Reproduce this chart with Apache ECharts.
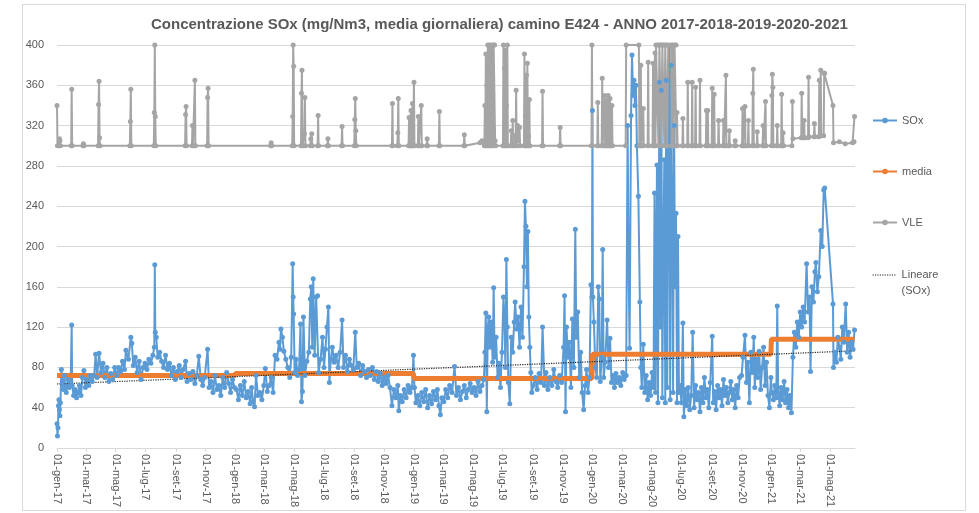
<!DOCTYPE html>
<html>
<head>
<meta charset="utf-8">
<script src="https://cdn.jsdelivr.net/npm/echarts@6/dist/echarts.min.js"></script>
<style>
  html, body { margin: 0; padding: 0; background: #fff; }
  #chart { width: 979px; height: 513px; }
</style>
</head>
<body>
<div id="chart"></div>
<script>
// tick labels
const monthNames = ['gen', 'feb', 'mar', 'apr', 'mag', 'giu', 'lug', 'ago', 'set', 'ott', 'nov', 'dic'];
const xTickDates = [
  '2017-01-01', '2017-03-01', '2017-05-01', '2017-07-01', '2017-09-01', '2017-11-01',
  '2018-01-01', '2018-03-01', '2018-05-01', '2018-07-01', '2018-09-01', '2018-11-01',
  '2019-01-01', '2019-03-01', '2019-05-01', '2019-07-01', '2019-09-01', '2019-11-01',
  '2020-01-01', '2020-03-01', '2020-05-01', '2020-07-01', '2020-09-01', '2020-11-01',
  '2021-01-01', '2021-03-01', '2021-05-01'
];
const yTicks = [0, 40, 80, 120, 160, 200, 240, 280, 320, 360, 400];
const xStart = '2017-01-01';
const xEnd = '2021-06-21';

// SOx daily values
const soxData = [
  ['2017-01-01', 24], ['2017-01-02', 12], ['2017-01-03', 20], ['2017-01-04', 42], ['2017-01-05', 48], ['2017-01-06', 38],
  ['2017-01-07', 32], ['2017-01-08', 45], ['2017-01-10', 78], ['2017-01-12', 65], ['2017-01-14', 58], ['2017-01-16', 72],
  ['2017-01-18', 60], ['2017-01-20', 55], ['2017-01-23', 68], ['2017-01-26', 60], ['2017-01-29', 66], ['2017-01-31', 122],
  ['2017-02-01', 62], ['2017-02-04', 52], ['2017-02-07', 58], ['2017-02-10', 50], ['2017-02-13', 55], ['2017-02-16', 62],
  ['2017-02-19', 52], ['2017-02-22', 70], ['2017-02-25', 77], ['2017-02-28', 60], ['2017-03-03', 68], ['2017-03-07', 62],
  ['2017-03-10', 72], ['2017-03-14', 66], ['2017-03-18', 72], ['2017-03-21', 93], ['2017-03-24', 70], ['2017-03-28', 94],
  ['2017-04-01', 75], ['2017-04-05', 84], ['2017-04-09', 70], ['2017-04-13', 80], ['2017-04-17', 66], ['2017-04-21', 74],
  ['2017-04-25', 68], ['2017-04-29', 80], ['2017-05-03', 72], ['2017-05-07', 80], ['2017-05-11', 76], ['2017-05-15', 86],
  ['2017-05-19', 78], ['2017-05-22', 97], ['2017-05-27', 88], ['2017-06-01', 110], ['2017-06-03', 104], ['2017-06-06', 82],
  ['2017-06-10', 90], ['2017-06-14', 75], ['2017-06-18', 86], ['2017-06-22', 68], ['2017-06-26', 80], ['2017-06-30', 84],
  ['2017-07-04', 78], ['2017-07-08', 88], ['2017-07-12', 84], ['2017-07-16', 92], ['2017-07-19', 100], ['2017-07-20', 182],
  ['2017-07-21', 115], ['2017-07-23', 110], ['2017-07-26', 90], ['2017-07-30', 95], ['2017-08-03', 86], ['2017-08-07', 80],
  ['2017-08-11', 92], ['2017-08-15', 78], ['2017-08-19', 84], ['2017-08-23', 72], ['2017-08-27', 80], ['2017-08-31', 68],
  ['2017-09-04', 76], ['2017-09-08', 82], ['2017-09-12', 70], ['2017-09-16', 78], ['2017-09-21', 86], ['2017-09-24', 66],
  ['2017-09-28', 74], ['2017-10-02', 68], ['2017-10-06', 76], ['2017-10-10', 64], ['2017-10-14', 72], ['2017-10-18', 91],
  ['2017-10-22', 68], ['2017-10-26', 62], ['2017-10-30', 70], ['2017-11-05', 98], ['2017-11-08', 60], ['2017-11-12', 66],
  ['2017-11-16', 55], ['2017-11-20', 72], ['2017-11-24', 58], ['2017-11-28', 62], ['2017-12-02', 52], ['2017-12-06', 70],
  ['2017-12-10', 60], ['2017-12-14', 75], ['2017-12-18', 64], ['2017-12-22', 55], ['2017-12-26', 68], ['2017-12-30', 60],
  ['2018-01-03', 58], ['2018-01-07', 48], ['2018-01-11', 62], ['2018-01-15', 52], ['2018-01-19', 66], ['2018-01-23', 50],
  ['2018-01-27', 56], ['2018-01-31', 44], ['2018-02-03', 60], ['2018-02-06', 46], ['2018-02-09', 41], ['2018-02-12', 72],
  ['2018-02-16', 52], ['2018-02-20', 55], ['2018-02-24', 48], ['2018-02-28', 62], ['2018-03-03', 79], ['2018-03-07', 56],
  ['2018-03-11', 62], ['2018-03-15', 70], ['2018-03-19', 55], ['2018-03-23', 92], ['2018-03-27', 88], ['2018-03-31', 105],
  ['2018-04-02', 98], ['2018-04-04', 118], ['2018-04-07', 110], ['2018-04-10', 96], ['2018-04-14', 88], ['2018-04-18', 80],
  ['2018-04-22', 70], ['2018-04-25', 90], ['2018-04-28', 183], ['2018-04-29', 150], ['2018-04-30', 133], ['2018-05-02', 75],
  ['2018-05-05', 88], ['2018-05-08', 72], ['2018-05-11', 78], ['2018-05-14', 123], ['2018-05-16', 46], ['2018-05-18', 56],
  ['2018-05-20', 130], ['2018-05-23', 72], ['2018-05-27', 86], ['2018-05-31', 95], ['2018-06-03', 148], ['2018-06-05', 160],
  ['2018-06-07', 100], ['2018-06-09', 168], ['2018-06-12', 92], ['2018-06-15', 150], ['2018-06-18', 151], ['2018-06-20', 75],
  ['2018-06-24', 88], ['2018-06-28', 110], ['2018-07-01', 80], ['2018-07-04', 98], ['2018-07-07', 120], ['2018-07-10', 140],
  ['2018-07-12', 65], ['2018-07-15', 88], ['2018-07-18', 100], ['2018-07-22', 85], ['2018-07-26', 92], ['2018-07-30', 80],
  ['2018-08-03', 95], ['2018-08-07', 127], ['2018-08-10', 80], ['2018-08-14', 92], ['2018-08-18', 76], ['2018-08-22', 88],
  ['2018-08-26', 82], ['2018-08-30', 78], ['2018-09-03', 115], ['2018-09-06', 80], ['2018-09-10', 84], ['2018-09-14', 72],
  ['2018-09-18', 82], ['2018-09-22', 76], ['2018-09-26', 70], ['2018-09-30', 78], ['2018-10-04', 72], ['2018-10-08', 80],
  ['2018-10-12', 68], ['2018-10-16', 76], ['2018-10-20', 66], ['2018-10-24', 74], ['2018-10-28', 62], ['2018-11-01', 70],
  ['2018-11-05', 64], ['2018-11-09', 72], ['2018-11-13', 60], ['2018-11-17', 42], ['2018-11-21', 58], ['2018-11-25', 50],
  ['2018-11-29', 62], ['2018-12-01', 37], ['2018-12-04', 52], ['2018-12-08', 46], ['2018-12-12', 58], ['2018-12-16', 50],
  ['2018-12-20', 62], ['2018-12-24', 55], ['2018-12-28', 60], ['2018-12-31', 92],
  ['2019-01-02', 60], ['2019-01-05', 45], ['2019-01-09', 52], ['2019-01-13', 42], ['2019-01-17', 55], ['2019-01-21', 46],
  ['2019-01-25', 58], ['2019-01-29', 40], ['2019-02-02', 52], ['2019-02-06', 44], ['2019-02-10', 56], ['2019-02-14', 48],
  ['2019-02-18', 58], ['2019-02-21', 42], ['2019-02-24', 33], ['2019-02-27', 50], ['2019-03-03', 46], ['2019-03-07', 58],
  ['2019-03-11', 50], ['2019-03-15', 62], ['2019-03-20', 55], ['2019-03-25', 81], ['2019-03-29', 52], ['2019-04-02', 60],
  ['2019-04-06', 48], ['2019-04-10', 56], ['2019-04-14', 62], ['2019-04-18', 50], ['2019-04-22', 58], ['2019-04-26', 64],
  ['2019-04-30', 55], ['2019-05-04', 60], ['2019-05-08', 52], ['2019-05-12', 66], ['2019-05-16', 56], ['2019-05-20', 62],
  ['2019-05-24', 68], ['2019-05-26', 95], ['2019-05-28', 134], ['2019-05-30', 36], ['2019-06-01', 120], ['2019-06-03', 130],
  ['2019-06-05', 100], ['2019-06-08', 125], ['2019-06-11', 85], ['2019-06-13', 159], ['2019-06-15', 90], ['2019-06-18', 110],
  ['2019-06-21', 70], ['2019-06-24', 84], ['2019-06-27', 60], ['2019-06-30', 95], ['2019-07-03', 150], ['2019-07-05', 130],
  ['2019-07-07', 80], ['2019-07-09', 187], ['2019-07-11', 120], ['2019-07-13', 65], ['2019-07-16', 44], ['2019-07-19', 110],
  ['2019-07-22', 95], ['2019-07-25', 125], ['2019-07-27', 145], ['2019-07-30', 118], ['2019-08-02', 130], ['2019-08-05', 100],
  ['2019-08-08', 140], ['2019-08-11', 110], ['2019-08-14', 180], ['2019-08-16', 245], ['2019-08-18', 220], ['2019-08-20', 160],
  ['2019-08-22', 215], ['2019-08-24', 130], ['2019-08-26', 100], ['2019-08-28', 75], ['2019-08-30', 55], ['2019-09-02', 62],
  ['2019-09-06', 70], ['2019-09-10', 58], ['2019-09-14', 74], ['2019-09-18', 65], ['2019-09-21', 120], ['2019-09-25', 62],
  ['2019-09-28', 75], ['2019-10-02', 58], ['2019-10-06', 70], ['2019-10-10', 62], ['2019-10-14', 78], ['2019-10-18', 66],
  ['2019-10-22', 60], ['2019-10-26', 72], ['2019-10-30', 65], ['2019-11-03', 100], ['2019-11-05', 151], ['2019-11-07', 36],
  ['2019-11-09', 120], ['2019-11-12', 90], ['2019-11-15', 105], ['2019-11-18', 60], ['2019-11-21', 128], ['2019-11-24', 80],
  ['2019-11-27', 217], ['2019-11-29', 110], ['2019-12-02', 135], ['2019-12-05', 70], ['2019-12-08', 95], ['2019-12-11', 55],
  ['2019-12-14', 38], ['2019-12-17', 62], ['2019-12-20', 78], ['2019-12-23', 55], ['2019-12-26', 70], ['2019-12-29', 162],
  ['2019-12-31', 150],
  ['2020-01-01', 335], ['2020-01-02', 150], ['2020-01-04', 125], ['2020-01-07', 80], ['2020-01-10', 70], ['2020-01-13', 160],
  ['2020-01-15', 148], ['2020-01-17', 66], ['2020-01-20', 90], ['2020-01-22', 197], ['2020-01-24', 70], ['2020-01-27', 85],
  ['2020-01-31', 127], ['2020-02-03', 80], ['2020-02-06', 109], ['2020-02-09', 65], ['2020-02-12', 72], ['2020-02-15', 60],
  ['2020-02-18', 74], ['2020-02-21', 65], ['2020-02-25', 70], ['2020-02-28', 62], ['2020-03-03', 75], ['2020-03-06', 68],
  ['2020-03-10', 72], ['2020-03-13', 320], ['2020-03-15', 180], ['2020-03-17', 99], ['2020-03-20', 330], ['2020-03-22', 390],
  ['2020-03-24', 350], ['2020-03-26', 365], ['2020-03-28', 340], ['2020-03-30', 360], ['2020-04-01', 300], ['2020-04-04', 250],
  ['2020-04-07', 145], ['2020-04-09', 80], ['2020-04-11', 60], ['2020-04-14', 103], ['2020-04-17', 55], ['2020-04-20', 72],
  ['2020-04-23', 48], ['2020-04-26', 65], ['2020-04-29', 52], ['2020-05-02', 75], ['2020-05-05', 60], ['2020-05-07', 253],
  ['2020-05-09', 55], ['2020-05-12', 281], ['2020-05-14', 45], ['2020-05-17', 363], ['2020-05-19', 120], ['2020-05-21', 355],
  ['2020-05-23', 50], ['2020-05-25', 193], ['2020-05-27', 286], ['2020-05-29', 45], ['2020-05-31', 365], ['2020-06-02', 60],
  ['2020-06-04', 274], ['2020-06-06', 420], ['2020-06-08', 48], ['2020-06-10', 380], ['2020-06-12', 230], ['2020-06-14', 55],
  ['2020-06-16', 320], ['2020-06-18', 160], ['2020-06-20', 233], ['2020-06-22', 45], ['2020-06-24', 210], ['2020-06-26', 55],
  ['2020-06-28', 62], ['2020-07-01', 45], ['2020-07-04', 124], ['2020-07-06', 31], ['2020-07-09', 58], ['2020-07-12', 42],
  ['2020-07-15', 60], ['2020-07-18', 38], ['2020-07-21', 52], ['2020-07-24', 115], ['2020-07-27', 40], ['2020-07-30', 62],
  ['2020-08-02', 48], ['2020-08-05', 55], ['2020-08-08', 36], ['2020-08-11', 60], ['2020-08-14', 45], ['2020-08-17', 70],
  ['2020-08-20', 50], ['2020-08-23', 58], ['2020-08-26', 40], ['2020-08-29', 65], ['2020-09-02', 111], ['2020-09-04', 45],
  ['2020-09-07', 56], ['2020-09-10', 38], ['2020-09-13', 62], ['2020-09-16', 50], ['2020-09-19', 58], ['2020-09-22', 42],
  ['2020-09-25', 68], ['2020-09-28', 52], ['2020-10-01', 60], ['2020-10-04', 45], ['2020-10-07', 55], ['2020-10-10', 66],
  ['2020-10-13', 48], ['2020-10-16', 58], ['2020-10-19', 40], ['2020-10-22', 62], ['2020-10-25', 50], ['2020-10-28', 70],
  ['2020-11-01', 72], ['2020-11-04', 90], ['2020-11-08', 112], ['2020-11-11', 65], ['2020-11-14', 85], ['2020-11-17', 45],
  ['2020-11-20', 95], ['2020-11-23', 75], ['2020-11-26', 110], ['2020-11-28', 60], ['2020-12-01', 88], ['2020-12-04', 70],
  ['2020-12-07', 96], ['2020-12-10', 58], ['2020-12-13', 80], ['2020-12-16', 100], ['2020-12-19', 62], ['2020-12-22', 85],
  ['2020-12-25', 52], ['2020-12-28', 40], ['2020-12-31', 70],
  ['2021-01-02', 55], ['2021-01-05', 48], ['2021-01-08', 62], ['2021-01-11', 50], ['2021-01-13', 141], ['2021-01-15', 55],
  ['2021-01-18', 42], ['2021-01-21', 60], ['2021-01-24', 48], ['2021-01-27', 66], ['2021-01-30', 45], ['2021-02-02', 58],
  ['2021-02-05', 40], ['2021-02-08', 52], ['2021-02-11', 35], ['2021-02-14', 90], ['2021-02-17', 115], ['2021-02-20', 100],
  ['2021-02-23', 125], ['2021-02-26', 110], ['2021-03-01', 135], ['2021-03-04', 120], ['2021-03-07', 140], ['2021-03-10', 125],
  ['2021-03-14', 183], ['2021-03-17', 135], ['2021-03-20', 150], ['2021-03-22', 76], ['2021-03-25', 160], ['2021-03-28', 145],
  ['2021-03-31', 175], ['2021-04-02', 184], ['2021-04-05', 155], ['2021-04-08', 170], ['2021-04-12', 216], ['2021-04-15', 200],
  ['2021-04-18', 256], ['2021-04-20', 258], ['2021-05-07', 143], ['2021-05-08', 80], ['2021-05-11', 95], ['2021-05-14', 85],
  ['2021-05-17', 110], ['2021-05-20', 100], ['2021-05-23', 88], ['2021-05-26', 120], ['2021-05-29', 105], ['2021-06-02', 143],
  ['2021-06-05', 95], ['2021-06-08', 115], ['2021-06-11', 90], ['2021-06-14', 105], ['2021-06-17', 98], ['2021-06-20', 117]
];

// yearly mean
const mediaData = [
  ['2017-01-01', 72], ['2017-12-31', 72], ['2018-01-01', 74], ['2018-12-31', 74],
  ['2019-01-01', 69], ['2019-12-31', 69], ['2020-01-01', 93], ['2020-12-31', 93],
  ['2021-01-01', 108], ['2021-06-20', 108]
];

// VLE: flat 300 with spikes
const vleData = [
  ['2017-01-01', 340], ['2017-01-02', 300], ['2017-01-05', 300], ['2017-01-06', 307], ['2017-01-07', 305], ['2017-01-08', 300],
  ['2017-01-30', 300], ['2017-01-31', 356], ['2017-02-01', 300], ['2017-02-23', 300], ['2017-02-24', 302], ['2017-02-25', 300],
  ['2017-03-26', 300], ['2017-03-27', 341], ['2017-03-28', 364], ['2017-03-29', 308], ['2017-03-30', 300],
  ['2017-05-30', 300], ['2017-05-31', 324], ['2017-06-01', 356], ['2017-06-02', 300],
  ['2017-07-18', 300], ['2017-07-19', 333], ['2017-07-20', 400], ['2017-07-21', 329], ['2017-07-22', 300],
  ['2017-09-20', 300], ['2017-09-21', 331], ['2017-09-22', 339], ['2017-09-23', 300],
  ['2017-10-04', 300], ['2017-10-05', 320], ['2017-10-06', 300], ['2017-10-09', 300], ['2017-10-10', 365], ['2017-10-11', 300],
  ['2017-11-04', 300], ['2017-11-05', 348], ['2017-11-06', 357], ['2017-11-07', 300],
  ['2018-03-14', 300], ['2018-03-15', 303], ['2018-03-16', 300],
  ['2018-04-27', 300], ['2018-04-28', 329], ['2018-04-29', 400], ['2018-04-30', 379], ['2018-05-01', 300],
  ['2018-05-15', 300], ['2018-05-16', 352], ['2018-05-17', 375], ['2018-05-18', 300],
  ['2018-05-21', 300], ['2018-05-22', 312], ['2018-05-23', 348], ['2018-05-24', 300],
  ['2018-06-03', 300], ['2018-06-04', 307], ['2018-06-06', 312], ['2018-06-07', 300],
  ['2018-06-18', 300], ['2018-06-19', 330], ['2018-06-20', 300], ['2018-07-08', 300], ['2018-07-09', 307], ['2018-07-10', 300],
  ['2018-08-06', 300], ['2018-08-07', 319], ['2018-08-08', 300],
  ['2018-09-01', 300], ['2018-09-02', 326], ['2018-09-03', 347], ['2018-09-04', 315], ['2018-09-05', 300],
  ['2018-11-17', 300], ['2018-11-18', 342], ['2018-11-19', 300],
  ['2018-11-28', 300], ['2018-11-29', 313], ['2018-11-30', 347], ['2018-12-01', 300],
  ['2018-12-21', 300], ['2018-12-22', 328], ['2018-12-23', 300], ['2018-12-25', 300], ['2018-12-26', 335], ['2018-12-27', 300],
  ['2018-12-28', 300], ['2018-12-29', 342], ['2018-12-30', 300], ['2018-12-31', 300], ['2019-01-01', 363], ['2019-01-02', 300],
  ['2019-01-09', 300], ['2019-01-10', 329], ['2019-01-11', 300], ['2019-01-15', 300], ['2019-01-16', 340], ['2019-01-17', 300],
  ['2019-01-27', 300], ['2019-01-28', 307], ['2019-01-29', 300], ['2019-02-21', 300], ['2019-02-22', 334], ['2019-02-23', 300],
  ['2019-04-13', 300], ['2019-04-14', 311], ['2019-04-15', 300], ['2019-05-16', 303], ['2019-05-20', 305],
  ['2019-05-25', 300], ['2019-05-26', 340], ['2019-05-27', 300], ['2019-05-28', 391], ['2019-05-29', 300], ['2019-05-30', 360],
  ['2019-05-31', 300], ['2019-06-01', 400], ['2019-06-02', 300], ['2019-06-03', 330], ['2019-06-04', 300], ['2019-06-05', 400],
  ['2019-06-06', 300], ['2019-06-07', 320], ['2019-06-08', 300], ['2019-06-09', 400], ['2019-06-10', 300], ['2019-06-11', 350],
  ['2019-06-12', 300], ['2019-06-13', 400], ['2019-06-15', 400], ['2019-06-16', 305], ['2019-06-17', 300],
  ['2019-07-02', 300], ['2019-07-03', 400], ['2019-07-04', 300], ['2019-07-05', 377], ['2019-07-06', 300], ['2019-07-07', 395],
  ['2019-07-08', 300], ['2019-07-09', 340], ['2019-07-10', 300], ['2019-07-11', 400], ['2019-07-12', 300],
  ['2019-07-18', 300], ['2019-07-19', 315], ['2019-07-21', 300], ['2019-07-22', 325], ['2019-07-23', 300], ['2019-07-25', 310],
  ['2019-07-28', 300], ['2019-07-29', 355], ['2019-07-30', 300], ['2019-08-01', 320], ['2019-08-03', 305], ['2019-08-05', 318],
  ['2019-08-06', 300], ['2019-08-14', 300], ['2019-08-15', 391], ['2019-08-16', 300], ['2019-08-17', 330], ['2019-08-18', 300],
  ['2019-08-19', 370], ['2019-08-20', 300], ['2019-08-21', 382], ['2019-08-22', 300], ['2019-08-23', 310], ['2019-08-24', 300],
  ['2019-08-25', 346], ['2019-08-26', 300], ['2019-09-20', 300], ['2019-09-21', 354], ['2019-09-22', 300],
  ['2019-10-26', 300], ['2019-10-27', 318], ['2019-10-28', 300], ['2019-12-30', 300], ['2019-12-31', 400],
  ['2020-01-01', 300], ['2020-01-11', 300], ['2020-01-12', 343], ['2020-01-13', 300], ['2020-01-20', 300], ['2020-01-21', 367],
  ['2020-01-22', 300], ['2020-01-25', 300], ['2020-01-26', 350], ['2020-01-27', 300], ['2020-01-28', 300], ['2020-01-29', 345],
  ['2020-01-30', 300], ['2020-02-01', 300], ['2020-02-02', 350], ['2020-02-03', 300], ['2020-02-05', 300], ['2020-02-06', 347],
  ['2020-02-07', 300], ['2020-02-09', 300], ['2020-02-10', 340], ['2020-02-11', 300],
  ['2020-03-09', 300], ['2020-03-10', 400], ['2020-04-05', 400], ['2020-04-06', 300],
  ['2020-04-08', 300], ['2020-04-09', 380], ['2020-04-10', 300], ['2020-04-13', 300], ['2020-04-14', 337], ['2020-04-15', 300],
  ['2020-04-23', 300], ['2020-04-24', 383], ['2020-04-25', 300], ['2020-05-03', 300], ['2020-05-04', 382], ['2020-05-05', 300],
  ['2020-05-07', 300], ['2020-05-08', 392], ['2020-05-09', 300], ['2020-05-10', 400], ['2020-05-14', 400], ['2020-05-15', 300],
  ['2020-05-17', 400], ['2020-05-20', 400], ['2020-05-21', 300], ['2020-05-23', 400], ['2020-05-26', 400], ['2020-05-27', 300],
  ['2020-05-29', 400], ['2020-06-01', 400], ['2020-06-02', 300], ['2020-06-04', 400], ['2020-06-10', 400], ['2020-06-11', 300],
  ['2020-06-13', 400], ['2020-06-15', 300], ['2020-06-17', 400], ['2020-06-20', 400], ['2020-06-21', 300], ['2020-06-22', 333],
  ['2020-06-23', 300], ['2020-07-03', 300], ['2020-07-04', 327], ['2020-07-05', 300], ['2020-07-13', 300], ['2020-07-14', 363],
  ['2020-07-15', 300], ['2020-07-22', 300], ['2020-07-23', 363], ['2020-07-24', 300], ['2020-07-29', 300], ['2020-07-30', 358],
  ['2020-07-31', 300], ['2020-08-07', 300], ['2020-08-08', 365], ['2020-08-09', 300], ['2020-08-20', 300], ['2020-08-21', 335],
  ['2020-08-22', 300], ['2020-08-23', 300], ['2020-08-24', 335], ['2020-08-25', 300], ['2020-09-01', 300], ['2020-09-02', 357],
  ['2020-09-03', 300], ['2020-09-05', 300], ['2020-09-06', 351], ['2020-09-07', 300], ['2020-09-14', 300], ['2020-09-15', 325],
  ['2020-09-16', 300], ['2020-09-24', 300], ['2020-09-25', 325], ['2020-09-26', 300], ['2020-09-29', 300], ['2020-09-30', 370],
  ['2020-10-01', 300], ['2020-10-06', 300], ['2020-10-07', 315], ['2020-10-08', 300], ['2020-10-18', 300], ['2020-10-19', 305],
  ['2020-10-20', 300], ['2020-11-02', 300], ['2020-11-03', 337], ['2020-11-04', 300], ['2020-11-07', 300], ['2020-11-08', 339],
  ['2020-11-09', 300], ['2020-11-14', 300], ['2020-11-15', 325], ['2020-11-16', 300], ['2020-11-23', 300], ['2020-11-24', 352],
  ['2020-11-25', 376], ['2020-11-26', 300], ['2020-12-02', 300], ['2020-12-03', 314], ['2020-12-04', 300], ['2020-12-14', 300],
  ['2020-12-15', 320], ['2020-12-16', 300], ['2020-12-19', 300], ['2020-12-20', 344], ['2020-12-21', 300],
  ['2021-01-01', 300], ['2021-01-02', 350], ['2021-01-03', 371], ['2021-01-04', 358], ['2021-01-05', 300], ['2021-01-12', 300],
  ['2021-01-13', 320], ['2021-01-14', 300], ['2021-01-21', 300], ['2021-01-22', 351], ['2021-01-23', 300], ['2021-01-24', 300],
  ['2021-01-25', 313], ['2021-01-26', 300], ['2021-02-12', 300], ['2021-02-13', 344], ['2021-02-14', 307], ['2021-03-03', 308],
  ['2021-03-04', 352], ['2021-03-05', 308], ['2021-03-08', 308], ['2021-03-09', 325], ['2021-03-10', 308], ['2021-03-17', 308],
  ['2021-03-18', 368], ['2021-03-19', 309], ['2021-03-29', 309], ['2021-03-30', 322], ['2021-03-31', 309], ['2021-04-08', 309],
  ['2021-04-09', 365], ['2021-04-10', 310], ['2021-04-11', 310], ['2021-04-12', 375], ['2021-04-13', 310], ['2021-04-18', 310],
  ['2021-04-19', 372], ['2021-04-20', 372], ['2021-05-07', 340], ['2021-05-08', 303], ['2021-05-20', 304], ['2021-06-01', 302],
  ['2021-06-16', 303], ['2021-06-19', 304], ['2021-06-20', 329]
];

// linear trend of SOx, end points
const trendData = [['2017-01-01', 63.5], ['2021-06-20', 96.5]];

// dates -> local timestamps for the value axis
function toTime(s) {
  const p = s.split('-');
  return new Date(+p[0], +p[1] - 1, +p[2]).getTime();
}
function toPoints(rows) {
  return rows.map(function (r) { return [toTime(r[0]), r[1]]; });
}

const tickTimes = xTickDates.map(toTime);
const font = 'Liberation Sans';
const grey = '#595959';

const chart = echarts.init(document.getElementById('chart'));

const legendBase = {
  orient: 'vertical',
  left: 872,
  padding: 0,
  itemWidth: 24,
  itemHeight: 7,
  textStyle: { color: grey, fontSize: 11, fontFamily: font },
  lineStyle: { width: 2 }
};

const option = {
  animation: false,
  backgroundColor: '#fff',
  textStyle: { fontFamily: font },
  title: {
    text: 'Concentrazione SOx (mg/Nm3, media giornaliera) camino E424 - ANNO 2017-2018-2019-2020-2021',
    left: 146,
    top: 12,
    textStyle: { fontSize: 15, fontWeight: 'bold', color: grey, fontFamily: font }
  },
  graphic: [
    {
      type: 'rect',
      shape: { x: 22.5, y: 4.5, width: 943, height: 506 },
      style: { fill: 'none', stroke: '#d9d9d9', lineWidth: 1 },
      silent: true
    }
  ],
  legend: [
    Object.assign({}, legendBase, { data: ['SOx'], top: 115 }),
    Object.assign({}, legendBase, { data: ['media'], top: 166 }),
    Object.assign({}, legendBase, { data: ['VLE'], top: 217 }),
    Object.assign({}, legendBase, {
      data: [{
        name: 'Lineare (SOx)',
        lineStyle: { width: 1.2 },
        itemStyle: { color: 'rgba(0,0,0,0)', borderWidth: 0 }
      }],
      top: 251,
      // empty first line so the icon sits next to "Lineare"
      formatter: function () { return ' \nLineare\n(SOx)'; },
      textStyle: { color: grey, fontSize: 11, fontFamily: font, lineHeight: 16 }
    })
  ],
  grid: {
    left: 57,
    right: 124,
    top: 45,
    bottom: 65
  },
  xAxis: {
    type: 'value',
    min: toTime(xStart),
    max: toTime(xEnd),
    axisLine: { show: true, onZero: false, lineStyle: { color: '#d9d9d9', width: 1 } },
    axisTick: { show: true, length: 4, lineStyle: { color: '#d9d9d9' }, customValues: tickTimes },
    splitLine: { show: false },
    axisLabel: {
      customValues: tickTimes,
      rotate: -90,
      margin: 6,
      color: grey,
      fontSize: 11,
      fontFamily: font,
      formatter: function (value) {
        const d = new Date(value);
        const dd = String(d.getDate()).padStart(2, '0');
        return dd + '-' + monthNames[d.getMonth()] + '-' + String(d.getFullYear()).slice(2);
      }
    }
  },
  yAxis: {
    type: 'value',
    min: yTicks[0],
    max: yTicks[yTicks.length - 1],
    interval: yTicks[1] - yTicks[0],
    axisLine: { show: false },
    axisTick: { show: false },
    splitLine: { lineStyle: { color: '#d9d9d9', width: 1 } },
    axisLabel: { color: grey, fontSize: 11, fontFamily: font, margin: 13 }
  },
  series: [
    {
      name: 'SOx',
      type: 'line',
      data: toPoints(soxData),
      symbol: 'circle',
      symbolSize: 5,
      lineStyle: { color: '#5B9BD5', width: 2 },
      itemStyle: { color: '#5B9BD5' }
    },
    {
      name: 'media',
      type: 'line',
      data: toPoints(mediaData),
      symbol: 'circle',
      symbolSize: 5,
      showSymbol: false,
      lineStyle: { color: '#ED7D31', width: 5 },
      itemStyle: { color: '#ED7D31' }
    },
    {
      name: 'VLE',
      type: 'line',
      data: toPoints(vleData),
      symbol: 'circle',
      symbolSize: 5,
      lineStyle: { color: '#A5A5A5', width: 2 },
      itemStyle: { color: '#A5A5A5' }
    },
    {
      name: 'Lineare (SOx)',
      type: 'line',
      data: toPoints(trendData),
      symbol: 'none',
      lineStyle: { color: '#262626', width: 1.2, type: 'dotted' },
      itemStyle: { color: '#262626' }
    }
  ]
};

chart.setOption(option);
</script>
</body>
</html>
